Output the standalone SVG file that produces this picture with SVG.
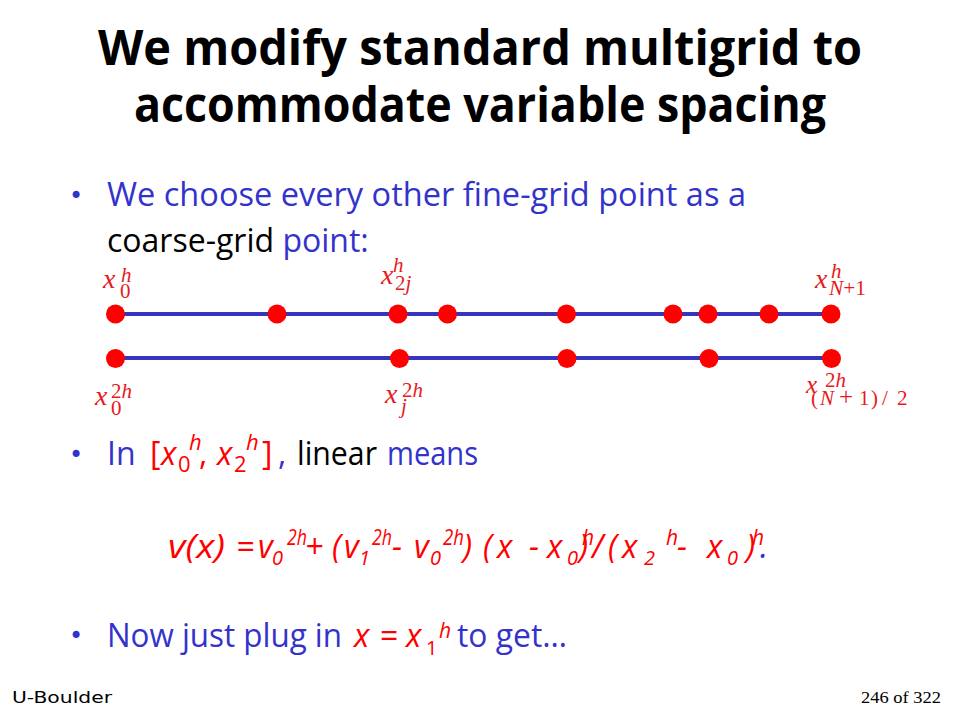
<svg xmlns="http://www.w3.org/2000/svg" width="960" height="720" viewBox="0 0 960 720">
<style>
.title{font-family:"Open Sans","DejaVu Sans",sans-serif;font-weight:bold;font-size:48px;fill:#000}
.body{font-family:"Open Sans","DejaVu Sans",sans-serif;font-size:32px}
.blue{fill:#3333cc}
.blk{fill:#000}
.red{fill:#ff0000}
.it{font-style:italic}
.sm{font-size:22px}
.f{font-family:"Open Sans","DejaVu Sans",sans-serif;font-size:32px;font-style:italic;fill:#ff0000}
.fsub{font-family:"Open Sans","DejaVu Sans",sans-serif;font-size:20px;font-style:italic;fill:#ff0000}
.fsup{font-family:"Open Sans","DejaVu Sans",sans-serif;font-size:21px;font-style:italic;fill:#ff0000}
.lb{font-family:"Liberation Serif",serif;font-size:28px;font-style:italic;fill:#e8191c}
.ls{font-family:"Liberation Serif",serif;font-size:21px;fill:#e8191c}
.lsi{font-family:"Liberation Serif",serif;font-size:21px;font-style:italic;fill:#e8191c}
.grid{stroke:#3535c0;stroke-width:4;fill:none}
.dot{fill:#ff0000}
.bul{font-family:"DejaVu Sans",sans-serif;font-size:24px}
</style>
<rect width="960" height="720" fill="#fff"/>
<g id="title">
<text class="title" x="98" y="65" textLength="764" lengthAdjust="spacingAndGlyphs">We modify standard multigrid to</text>
<text class="title" x="134" y="122" textLength="692" lengthAdjust="spacingAndGlyphs">accommodate variable spacing</text>
</g>
<g id="bullet1">
<text class="bul blue" x="69" y="204">•</text>
<text class="body blue" x="107" y="206" textLength="639" lengthAdjust="spacingAndGlyphs">We choose every other fine-grid point as a</text>
<text class="body" x="107" y="252"><tspan class="blk">coarse-grid </tspan><tspan class="blue">point:</tspan></text>
</g>
<g id="connectors">
<line class="grid" x1="115" y1="314" x2="831" y2="314"/>
<line class="grid" x1="115" y1="358" x2="831" y2="358"/>
</g>
<g id="fine-points">
<circle class="dot" cx="115.5" cy="314" r="9.5"/>
<circle class="dot" cx="277" cy="314" r="9.5"/>
<circle class="dot" cx="398" cy="314" r="9.5"/>
<circle class="dot" cx="447.5" cy="314" r="9.5"/>
<circle class="dot" cx="566.5" cy="314" r="9.5"/>
<circle class="dot" cx="673" cy="314" r="9.5"/>
<circle class="dot" cx="708" cy="314" r="9.5"/>
<circle class="dot" cx="769" cy="314" r="9.5"/>
<circle class="dot" cx="831" cy="314" r="9.5"/>
</g>
<g id="coarse-points">
<circle class="dot" cx="115.5" cy="358.5" r="9.5"/>
<circle class="dot" cx="399.5" cy="358.5" r="9.5"/>
<circle class="dot" cx="567" cy="358.5" r="9.5"/>
<circle class="dot" cx="709" cy="358.5" r="9.5"/>
<circle class="dot" cx="831.5" cy="358.5" r="9.5"/>
</g>
<g id="label-x0h">
<text class="lb" x="103" y="288">x</text>
<text class="lsi" x="121" y="282">h</text>
<text class="ls" x="120" y="298">0</text>
</g>
<g id="label-x2jh">
<text class="lb" x="381" y="284">x</text>
<text class="lsi" x="393" y="272">h</text>
<text class="ls" x="395" y="290">2<tspan font-style="italic">j</tspan></text>
</g>
<g id="label-xN1h">
<text class="lb" x="815" y="288">x</text>
<text class="lsi" x="831" y="278">h</text>
<text class="ls" x="829" y="295" textLength="37" lengthAdjust="spacingAndGlyphs"><tspan font-style="italic">N</tspan>+1</text>
</g>
<g id="label-x02h">
<text class="lb" x="95" y="405">x</text>
<text class="ls" x="111" y="398">2<tspan font-style="italic">h</tspan></text>
<text class="ls" x="111" y="415">0</text>
</g>
<g id="label-xj2h">
<text class="lb" x="385" y="403">x</text>
<text class="ls" x="402" y="397">2<tspan font-style="italic">h</tspan></text>
<text class="lsi" x="401" y="413">j</text>
</g>
<g id="label-xN2h">
<text class="lb" x="806" y="393" style="font-size:25px">x</text>
<text class="ls" x="825" y="387">2<tspan font-style="italic">h</tspan></text>
<text class="ls" x="811" y="405">(</text>
<text class="lsi" x="820" y="405">N</text>
<text class="ls" x="839" y="405" style="font-size:25px">+</text>
<text class="ls" x="859" y="405">1</text>
<text class="ls" x="871" y="405">)</text>
<text class="ls" x="882" y="405">/</text>
<text class="ls" x="897" y="405">2</text>
</g>
<g id="bullet2">
<text class="bul blue" x="69" y="463">•</text>
<text class="body blue" x="107" y="465">In</text>
<text class="body red" x="150" y="465">[</text>
<text class="body red it" x="161" y="465">x</text>
<text class="body red sm" x="178" y="472">0</text>
<text class="body red it sm" x="189" y="450">h</text>
<text class="body red" x="199" y="465">,</text>
<text class="body red it" x="217" y="465">x</text>
<text class="body red sm" x="234" y="472">2</text>
<text class="body red it sm" x="246" y="450">h</text>
<text class="body red" x="262" y="465">]</text>
<text class="body blue" x="278" y="465">,</text>
<text class="body blk" x="297" y="465" textLength="80" lengthAdjust="spacingAndGlyphs">linear</text>
<text class="body blue" x="387" y="465" textLength="91" lengthAdjust="spacingAndGlyphs">means</text>
</g>
<g id="formula">
<text class="f" x="168" y="558" textLength="57" lengthAdjust="spacingAndGlyphs">v(x)</text>
<text class="f" x="236" y="558">=</text>
<text class="f" x="258" y="558">v</text>
<text class="fsub" x="272" y="565">0</text>
<text class="fsup" x="287" y="545" textLength="20" lengthAdjust="spacingAndGlyphs">2h</text>
<text class="f" x="305" y="558">+</text>
<text class="f" x="332" y="558">(</text>
<text class="f" x="344" y="558">v</text>
<text class="fsub" x="359" y="565">1</text>
<text class="fsup" x="372" y="545" textLength="20" lengthAdjust="spacingAndGlyphs">2h</text>
<text class="f" x="392" y="558">-</text>
<text class="f" x="414" y="558">v</text>
<text class="fsub" x="430" y="565">0</text>
<text class="fsup" x="443" y="545" textLength="21" lengthAdjust="spacingAndGlyphs">2h</text>
<text class="f" x="463" y="558">)</text>
<text class="f" x="483" y="558">(</text>
<text class="f" x="497" y="558">x</text>
<text class="f" x="529" y="558">-</text>
<text class="f" x="547" y="558">x</text>
<text class="fsub" x="567" y="565">0</text>
<text class="fsup" x="582" y="545">h</text>
<text class="f" x="579" y="558">)</text>
<text class="f" x="592" y="558">/</text>
<text class="f" x="608" y="558">(</text>
<text class="f" x="622" y="558">x</text>
<text class="fsub" x="644" y="565">2</text>
<text class="fsup" x="666" y="545">h</text>
<text class="f" x="677" y="558">-</text>
<text class="f" x="707" y="558">x</text>
<text class="fsub" x="727" y="565">0</text>
<text class="f" x="746" y="558">)</text>
<text class="fsup" x="752" y="545">h</text>
<text class="f" x="760" y="558" style="fill:#3333cc">.</text>
</g>
<g id="bullet3">
<text class="bul blue" x="69" y="644">•</text>
<text class="body blue" x="107" y="647" textLength="235" lengthAdjust="spacingAndGlyphs">Now just plug in</text>
<text class="body red it" x="354" y="647">x</text>
<text class="body red" x="380" y="647">=</text>
<text class="body red it" x="406" y="647">x</text>
<text class="body red" x="426" y="655" style="font-size:20px">1</text>
<text class="body red it" x="439" y="638" style="font-size:21px">h</text>
<text class="body blue" x="457" y="647" textLength="110" lengthAdjust="spacingAndGlyphs">to get…</text>
</g>
<g id="footer">
<text x="12" y="703" font-family="'DejaVu Sans',sans-serif" font-size="16" fill="#000" textLength="100" lengthAdjust="spacingAndGlyphs">U-Boulder</text>
<text x="941" y="703" text-anchor="end" font-family="'Liberation Serif',serif" font-size="17" fill="#000" textLength="80" lengthAdjust="spacingAndGlyphs">246 of 322</text>
</g>
</svg>
